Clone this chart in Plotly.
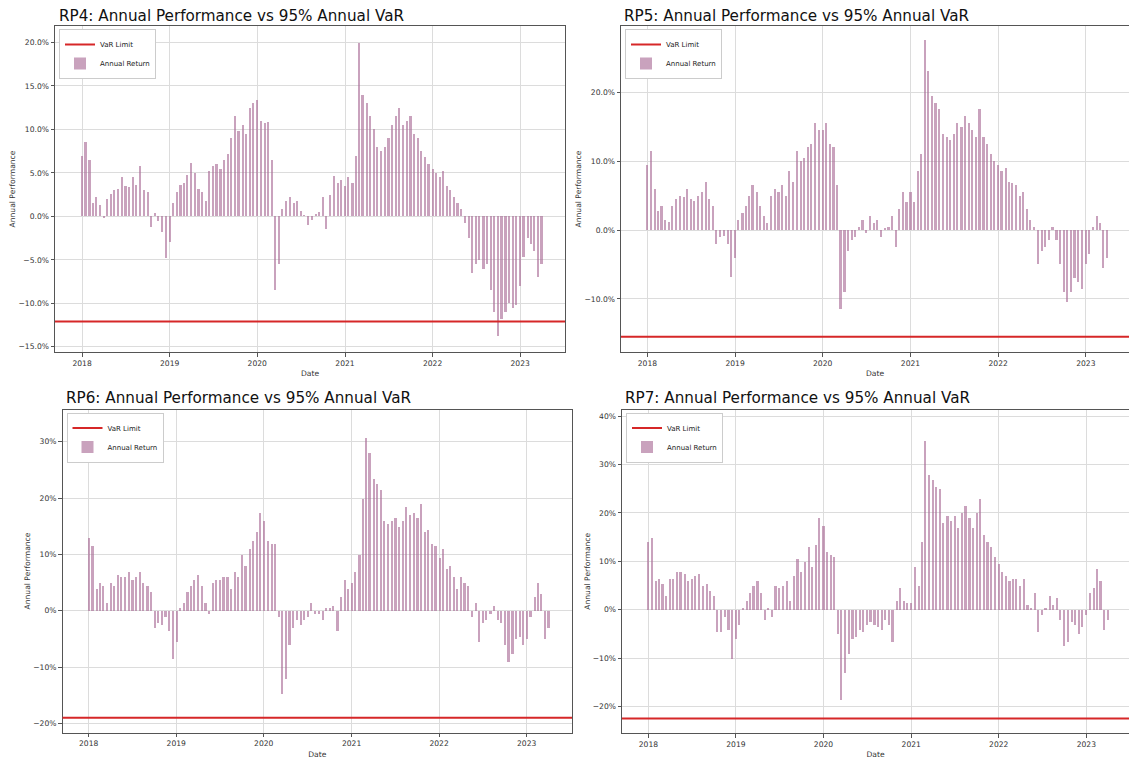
import plotly.graph_objects as go

# ---------------- data (values in %) ----------------
dates = []
for yr in range(2018, 2024):
    for mo in range(1, 13):
        if yr == 2023 and mo > 3:
            break
        dates.append(f"{yr}-{mo:02d}-01")
        dates.append(f"{yr}-{mo:02d}-15")
dates.append("2023-03-31")

rp4 = [7.0, 8.5, 6.5, 1.5, 2.2, 1.3, -0.2, 2.0, 2.6, 3.0, 3.2, 4.5, 3.5, 3.4, 4.5, 3.6, 5.8, 3.0, 2.8, -1.2, 0.4, -0.5, -1.8, -4.8,
       -3.0, 1.5, 2.8, 3.6, 3.8, 4.8, 6.1, 5.0, 3.2, 2.8, 1.8, 5.2, 5.8, 6.0, 5.5, 6.5, 7.2, 9.0, 11.5, 9.8, 10.5, 9.5, 12.5, 13.0,
       13.4, 11.0, 10.8, 10.9, 6.5, -8.5, -5.5, 0.8, 1.8, 2.2, 1.5, 1.8, 0.6, 0.2, -1.0, -0.4, 0.3, 0.5, 2.2, -1.4, 2.5, 4.7, 3.8, 4.2,
       3.5, 4.5, 3.8, 7.0, 20.0, 14.0, 13.0, 11.5, 10.0, 8.0, 7.5, 8.0, 9.0, 10.5, 11.5, 12.5, 10.5, 11.0, 11.5, 9.5, 9.0, 7.5, 6.8, 6.0,
       5.5, 5.0, 4.5, 5.2, 3.5, 3.0, 2.2, 1.5, 0.8, -0.8, -2.5, -6.5, -5.5, -5.0, -6.0, -5.5, -8.5, -11.0, -13.8, -11.8, -11.0, -10.0, -10.5, -10.2,
       -8.0, -4.7, -2.5, -3.2, -4.0, -7.0, -5.5]

rp5 = [9.5, 11.5, 6.0, 2.8, 3.5, 1.5, 1.2, 3.5, 4.5, 5.0, 4.8, 6.0, 4.5, 4.2, 5.0, 5.5, 7.0, 4.5, 3.5, -2.0, -1.0, -0.8, -2.0, -6.8,
       -4.0, 1.5, 2.5, 3.5, 5.0, 6.5, 5.5, 3.5, 2.0, 1.0, 5.0, 6.0, 5.5, 6.5, 5.0, 8.5, 7.0, 11.5, 10.0, 10.5, 12.0, 12.5, 15.5, 14.5,
       14.5, 15.5, 12.5, 12.0, 6.5, -11.5, -9.0, -3.0, -1.5, -1.0, 0.5, 1.5, -0.5, 2.0, 1.0, 1.5, -1.0, 0.3, 0.5, 2.0, -2.5, 3.0, 5.5, 4.0,
       5.5, 4.0, 8.5, 11.0, 27.5, 23.0, 19.5, 18.5, 17.5, 14.0, 13.5, 13.0, 14.0, 15.5, 15.0, 16.5, 15.5, 14.5, 13.5, 17.5, 13.5, 12.5, 11.0, 10.0,
       9.5, 8.5, 9.0, 7.0, 6.8, 6.5, 5.0, 5.5, 3.0, 1.5, 0.5, -5.0, -3.0, -2.5, -1.5, 0.5, -1.5, -5.0, -9.0, -10.5, -9.0, -7.0, -7.5, -8.5,
       -5.0, -3.5, 0.5, 2.0, 1.0, -5.5, -4.0]

rp6 = [13.0, 11.5, 4.0, 5.0, 4.5, 1.5, 5.0, 4.5, 6.5, 6.0, 6.0, 7.0, 5.5, 6.0, 7.0, 5.0, 4.5, 3.5, -3.0, -2.0, -2.5, -1.0, -3.5, -8.5,
       -5.5, 0.5, 1.5, 3.5, 4.5, 5.5, 6.5, 4.5, 1.5, -0.5, 5.0, 5.5, 5.5, 6.0, 6.0, 4.0, 7.0, 6.0, 10.0, 8.0, 11.0, 12.5, 14.0, 17.5,
       16.0, 12.5, 12.0, 12.0, -1.0, -14.7, -12.0, -6.0, -3.0, -1.5, -2.5, -1.5, -1.0, 1.5, -0.5, -0.5, -1.5, 0.5, 0.5, 1.0, -3.5, 2.5, 5.5, 4.0,
       5.0, 7.0, 10.0, 20.0, 30.7, 28.0, 23.5, 22.5, 21.5, 16.0, 15.5, 16.0, 16.5, 15.0, 16.0, 18.5, 17.0, 17.5, 16.5, 19.0, 14.0, 14.5, 12.0, 11.5,
       9.5, 11.0, 7.5, 8.0, 6.0, 4.0, 6.0, 5.0, 4.5, -1.0, 1.5, -5.5, -2.0, -1.5, -0.5, 1.0, -1.5, -2.0, -6.0, -9.0, -7.5, -5.0, -4.5, -6.0,
       -5.0, -1.0, 2.5, 5.0, 3.0, -5.0, -3.0]

rp7 = [14.0, 15.0, 6.0, 6.5, 5.5, 3.0, 6.5, 6.5, 8.0, 8.0, 7.5, 6.0, 6.5, 7.0, 7.5, 5.0, 5.5, 4.0, 3.0, -4.5, -4.5, -1.5, -4.0, -10.0,
       -6.0, -3.0, 0.5, 2.0, 3.5, 5.0, 6.0, 3.5, -2.0, 0.5, -1.5, 5.0, 4.5, 5.0, 6.0, 2.0, 7.0, 10.5, 8.0, 10.0, 13.0, 9.0, 13.5, 19.0,
       17.5, 12.0, 11.5, 11.0, -5.0, -18.5, -13.0, -9.0, -6.0, -5.5, -4.0, -4.5, -3.0, -2.5, -3.0, -3.5, -4.0, -2.0, -3.0, -6.5, 2.0, 4.5, 2.0, 1.5,
       1.5, 9.0, 5.0, 14.0, 35.0, 28.0, 27.0, 25.5, 25.0, 18.0, 19.5, 18.5, 19.5, 17.0, 20.0, 21.5, 19.0, 17.0, 20.0, 23.0, 15.5, 14.0, 13.0, 11.0,
       9.5, 8.0, 7.0, 6.0, 6.5, 6.5, 5.0, 6.5, 1.0, 0.5, 3.5, -4.5, -1.0, 0.5, 3.0, 1.0, 2.5, -2.0, -7.5, -6.5, -2.5, -3.0, -5.0, -3.5,
       -1.0, 3.5, 4.5, 8.5, 6.0, -4.0, -2.0]

names = ["RP4", "RP5", "RP6", "RP7"]
series = [rp4, rp5, rp6, rp7]
var_limits = [-12.1, -15.5, -19.0, -22.5]
year_ticks = ["2018-01-01", "2019-01-01", "2020-01-01", "2021-01-01", "2022-01-01", "2023-01-01"]
year_labels = ["2018", "2019", "2020", "2021", "2022", "2023"]
y_ticks = [[-15, -10, -5, 0, 5, 10, 15, 20], [-10, 0, 10, 20],
           [-20, -10, 0, 10, 20, 30], [-20, -10, 0, 10, 20, 30, 40]]
y_decimals = [1, 1, 0, 0]


def pct_label(v, d):
    s = f"{abs(v):.{d}f}%"
    return ("\u2212" + s) if v < 0 else s


# ---------------- layout ----------------
W, H = 1129, 761
FONT = "DejaVu Sans"
boxes = [(55, 565, 26, 352), (621, 1129, 26, 352), (62.5, 572, 409.5, 732.5), (622, 1129, 409.5, 733)]
x_ranges = [("2017-09-10", "2023-07-07"), ("2017-09-13", "2023-06-30"),
            ("2017-09-14", "2023-07-09"), ("2017-09-13", "2023-06-28")]
y_ranges = [(-15.6, 21.9), (-17.7, 29.6), (-21.6, 35.7), (-25.5, 41.4)]
title_pos = [(56.5, 16), (622, 16), (63.5, 397.5), (622.5, 397.5)]

BAR = "rgba(168,105,148,0.62)"
RED = "#d62728"
GRID = "#dcdcdc"
SPINE = "#555555"

fig = go.Figure()
layout = dict(width=W, height=H, margin=dict(l=0, r=0, t=0, b=0),
              paper_bgcolor="white", plot_bgcolor="white", showlegend=True,
              font=dict(family=FONT, size=8, color="#333"), bargap=0)
shapes, annotations = [], []

for i in range(4):
    k = "" if i == 0 else str(i + 1)
    lg = "legend" if i == 0 else f"legend{i+1}"
    L, R, T, B = boxes[i]
    # legend entry for the VaR line (no data; the line itself is a shape)
    fig.add_trace(go.Scatter(x=[None], y=[None], mode="lines", name="VaR Limit",
                             line=dict(color=RED, width=2), xaxis="x" + k, yaxis="y" + k,
                             legend=lg, showlegend=True, hoverinfo="skip"))
    fig.add_trace(go.Bar(x=dates, y=series[i], name="Annual Return", marker=dict(color=BAR, line=dict(width=0)),
                         width=9 * 86400000, xaxis="x" + k, yaxis="y" + k, legend=lg, showlegend=True))
    axis_common = dict(showgrid=True, gridcolor=GRID, gridwidth=1, showline=True, mirror=True,
                       linecolor=SPINE, linewidth=1, ticks="outside", ticklen=3.5, tickcolor=SPINE,
                       tickfont=dict(size=7.6, color="#333", family=FONT), zeroline=False)
    layout["xaxis" + k] = dict(axis_common, domain=[L / W, R / W], anchor="y" + k, type="date",
                               range=list(x_ranges[i]), tickvals=year_ticks, ticktext=year_labels,
                               title=dict(text="Date", font=dict(size=7.6, color="#333"), standoff=4))
    layout["yaxis" + k] = dict(axis_common, domain=[1 - B / H, 1 - T / H], anchor="x" + k,
                               range=list(y_ranges[i]), tickvals=y_ticks[i],
                               ticktext=[pct_label(v, y_decimals[i]) for v in y_ticks[i]],
                               title=dict(text="Annual Performance", font=dict(size=7.6, color="#333"), standoff=1))
    layout[lg] = dict(x=(L + 4) / W, y=1 - (T + 3) / H, xanchor="left", yanchor="top",
                      bgcolor="white", bordercolor="#cccccc", borderwidth=1,
                      font=dict(size=7.0, color="#222", family=FONT), traceorder="normal",
                      itemwidth=30, tracegroupgap=0)
    shapes.append(dict(type="line", xref=f"x{k} domain", yref="y" + k, x0=0, x1=1,
                       y0=var_limits[i], y1=var_limits[i], line=dict(color=RED, width=2), layer="above"))
    tx, ty = title_pos[i]
    annotations.append(dict(text=f"{names[i]}: Annual Performance vs 95% Annual VaR", xref="paper", yref="paper",
                            x=tx / W, y=1 - ty / H, xanchor="left", yanchor="middle", showarrow=False,
                            font=dict(size=15.2, color="#111", family=FONT)))

layout["shapes"] = shapes
layout["annotations"] = annotations
fig.update_layout(**layout)
fig.write_html("out.html", config={"displayModeBar": False},
               post_script="document.body.style.margin='0';document.body.style.overflow='hidden';")
